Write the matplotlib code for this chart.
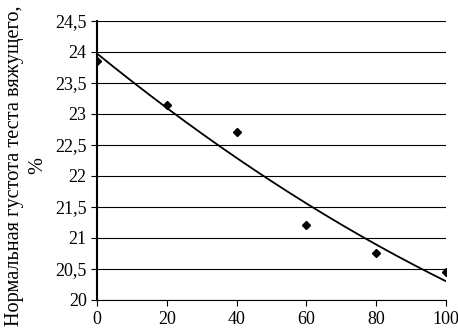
import matplotlib.pyplot as plt
import matplotlib.ticker as mticker
import numpy as np

# data
x = [0, 20, 40, 60, 80, 100]
y = [23.85, 23.15, 22.7, 21.2, 20.75, 20.45]
yticks = [20, 20.5, 21, 21.5, 22, 22.5, 23, 23.5, 24, 24.5]
xticks = [0, 20, 40, 60, 80, 100]

plt.rcParams['font.family'] = ['Liberation Serif', 'DejaVu Serif']

fig = plt.figure(figsize=(4.58, 3.31), dpi=100)
ax = fig.add_axes([0.212, 0.094, 0.762, 0.843])

# polynomial trend line (2nd order)
coef = np.polyfit(x, y, 2)
xs = np.linspace(0, 100, 200)
ax.plot(xs, np.polyval(coef, xs), color='black', lw=1.3)
ax.plot(x, y, linestyle='none', marker='D', ms=4, color='black')

ax.set_xlim(0, 100)
ax.set_ylim(20, 24.5)
ax.set_xticks(xticks)
ax.set_yticks(yticks)
fmt = mticker.FuncFormatter(lambda v, p: ('%g' % v).replace('.', ','))
ax.yaxis.set_major_formatter(fmt)
ax.xaxis.set_major_formatter(fmt)
ax.grid(axis='y', color='black', lw=0.8)
ax.set_axisbelow(True)

for s in ['top', 'right']:
    ax.spines[s].set_visible(False)
ax.spines['left'].set_linewidth(1.5)
ax.spines['bottom'].set_linewidth(0.8)
ax.tick_params(axis='both', labelsize=13, length=4, width=0.8, direction='out')
ax.tick_params(axis='x', pad=4)

fig.text(0.058, 0.5, 'Нормальная густота теста вяжущего,\n%', fontsize=14.6,
         rotation=90, ha='center', va='center', multialignment='center',
         linespacing=1.3)

fig.savefig('out.png', dpi=100)
